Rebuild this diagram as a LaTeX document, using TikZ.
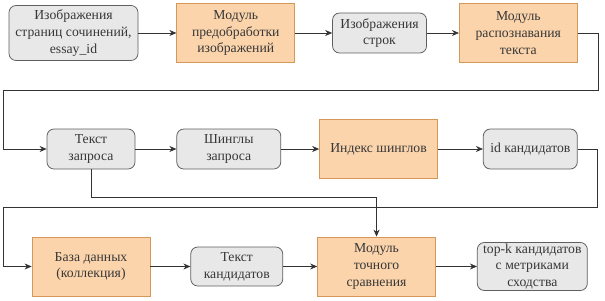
\documentclass[tikz,border=0pt]{standalone}
\usepackage{fontspec}
\setmainfont{Liberation Serif}
\usepackage{xcolor}
\usetikzlibrary{positioning, arrows.meta}
\definecolor{softorange}{RGB}{251,212,172}
\definecolor{lineorange}{RGB}{214,152,88}
\definecolor{softgray}{RGB}{232,232,232}
\definecolor{linegray}{RGB}{95,95,95}
\definecolor{textgray}{RGB}{55,55,55}

\begin{document}
\begin{tikzpicture}[
    every node/.style={font=\rmfamily\fontsize{19.5}{24}\selectfont, text=textgray},
    databox/.style={
        rectangle,
        rounded corners=0.35cm,
        draw=linegray,
        line width=1.1pt,
        align=center,
        inner sep=0pt,
        fill=softgray
    },
    modbox/.style={
        rectangle,
        draw=lineorange,
        line width=1.1pt,
        align=center,
        inner sep=0pt,
        minimum width=5.9cm,
        minimum height=2.95cm,
        fill=softorange
    },
    arrow/.style={-{Stealth[length=3.5mm, width=3mm]}, line width=0.9pt, draw=black!80}
]
\useasboundingbox (0,0) rectangle (30.25,15);

% row 1
\node[databox, minimum width=6.45cm, minimum height=2.75cm] (pages) at (3.675,13.35) {Изображения\\страниц сочинений,\\essay\_id};
\node[modbox, right=1.9cm of pages] (prep) {Модуль\\предобработки\\изображений};
\node[databox, minimum width=4.7cm, minimum height=2cm, right=1.85cm of prep] (lines) {Изображения\\строк};
\node[modbox, right=1.6cm of lines] (recog) {Модуль\\распознавания\\текста};

% row 2
\node[databox, minimum width=4.4cm, minimum height=2cm] (qtext) at (4.55,7.55) {Текст\\запроса};
\node[databox, minimum width=5.2cm, minimum height=2cm, right=2.05cm of qtext] (qshingles) {Шинглы\\запроса};
\node[modbox, right=1.9cm of qshingles] (index) {Индекс шинглов};
\node[databox, minimum width=4.7cm, minimum height=2cm, right=2.25cm of index] (candid) {id кандидатов};

% row 3
\node[modbox] (db) at (4.55,1.675) {База данных\\(коллекция)};
\node[databox, minimum width=4.6cm, minimum height=1.95cm, right=2.0cm of db] (ctext) {Текст\\кандидатов};
\node[modbox, right=1.7cm of ctext] (exact) {Модуль\\точного\\сравнения};
\node[databox, minimum width=5.5cm, minimum height=2.4cm, right=2.05cm of exact] (topk) {top-k кандидатов\\с метриками\\сходства};

\coordinate (wrapAr) at (29.9,10.5);
\coordinate (wrapAl) at (0.15,10.5);
\coordinate (qdrop) at (0,5.15);
\coordinate (wrapBr) at (29.85,4.65);
\coordinate (wrapBl) at (0.15,4.65);

\draw[arrow] (pages) -- (prep);
\draw[arrow] (prep) -- (lines);
\draw[arrow] (lines) -- (recog);
\draw[arrow] (recog.east) -| (wrapAr) -- (wrapAl) |- (qtext.west);

\draw[arrow] (qtext) -- (qshingles);
\draw[arrow] (qshingles) -- (index);
\draw[arrow] (index) -- (candid);
\draw[arrow] (candid.east) -| (wrapBr) -- (wrapBl) |- (db.west);
\draw[arrow] (qtext.south) -- (qtext.south |- qdrop) -| (exact.north);

\draw[arrow] (db) -- (ctext);
\draw[arrow] (ctext) -- (exact);
\draw[arrow] (exact) -- (topk);

\end{tikzpicture}
\end{document}
